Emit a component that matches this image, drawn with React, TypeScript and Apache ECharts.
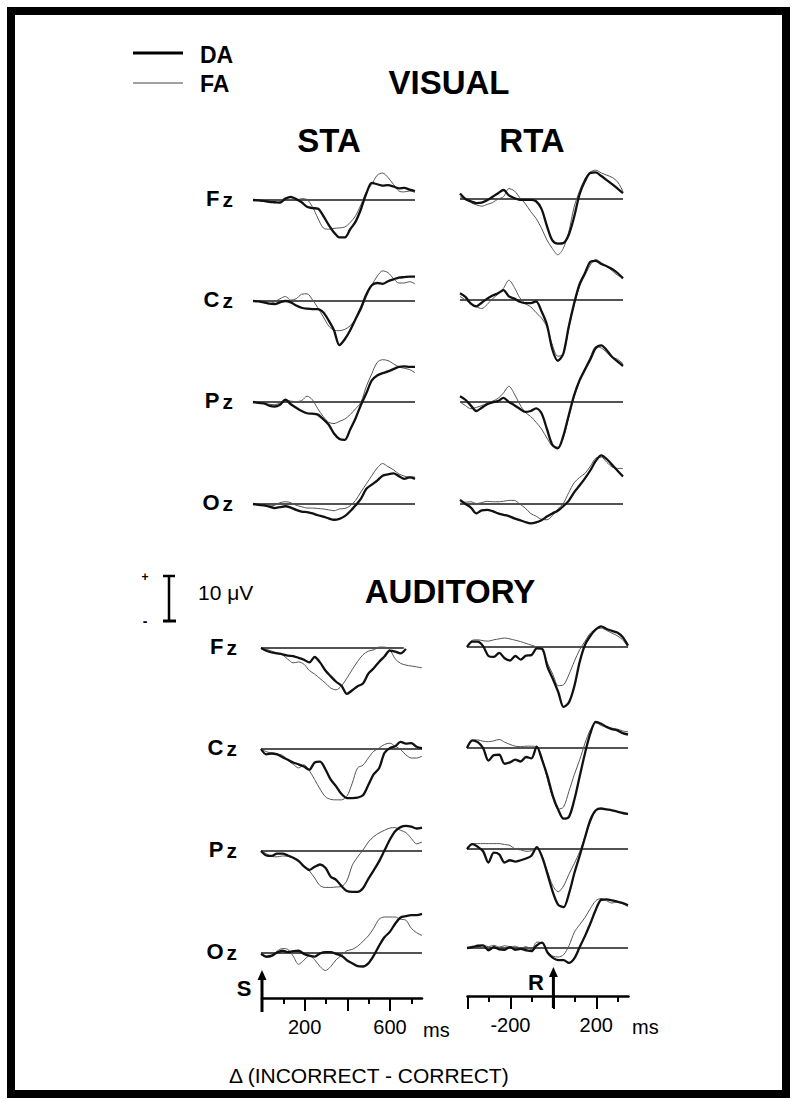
import React, { useEffect, useRef } from 'react';
import * as echarts from 'echarts';

// ---------- time bases (ms) ----------
const STA_T = [0, 25, 50, 75, 100, 125, 150, 175, 200, 225, 250, 275, 300, 325, 350, 375, 400, 425, 450, 475, 500, 525, 550, 575, 600, 625, 650, 675, 700, 725, 750];
const RTA_T = [-400, -375, -350, -325, -300, -275, -250, -225, -200, -175, -150, -125, -100, -75, -50, -25, 0, 25, 50, 75, 100, 125, 150, 175, 200, 225, 250, 275, 300, 325, 350];

// ---------- VISUAL, stimulus-locked (µV, + up) ----------
const visStaFzDA = [0, -0.1, -0.2, -0.4, -0.5, -0.6, 0.3, 0.7, 0.2, -0.5, -1.5, -1.8, -1.9, -3.5, -5.5, -7.2, -8.3, -8.3, -6.5, -4.8, -2, 1.5, 3.8, 3.5, 3.2, 3.3, 3, 2.6, 2.7, 2.3, 2.0];
const visStaFzFA = [0, -0.1, -0.3, -0.5, -0.6, -0.4, 0.5, 0.5, 0, 0.3, 0.1, -1.5, -4, -6.2, -6.5, -6.3, -6.2, -6, -5, -3.5, -1, 1.8, 3.5, 5.5, 6, 5, 3.5, 2, 1.8, 2, 1.7];
const visStaCzDA = [0, -0.1, -0.3, -0.6, -0.7, -0.3, 0, -0.3, -1, -1.5, -1.7, -1.8, -1.8, -2.5, -4.3, -6.5, -9.8, -8.5, -6.5, -4, -1.5, 1.5, 3.5, 4, 3.8, 4.4, 4.8, 5.2, 5.3, 5.4, 5.4];
const visStaCzFA = [0, -0.1, -0.2, -0.6, -0.2, 0.5, 1, 0.2, 0.5, 1.5, 1.6, 0.3, -1.5, -3.5, -5.5, -6.5, -6.6, -6.3, -5.5, -4, -2, 1, 3.5, 5.5, 6.7, 6.3, 5, 4, 4, 4.3, 3.8];
const visStaPzDA = [0, -0.2, -0.3, -0.8, -1, -0.6, 0.5, -0.5, -1.3, -2, -2.5, -2.6, -2.8, -3.8, -5, -7, -8.2, -8.4, -6.1, -3.6, -0.6, 2, 4.8, 5.9, 6.4, 6.8, 7.3, 7.8, 7.9, 7.8, 7.8];
const visStaPzFA = [0, -0.2, -0.3, -0.5, -0.6, -0.2, 0.5, 0.2, 0.1, 0.3, 1.3, 0.5, -1.5, -3.2, -4.5, -4.8, -4.3, -3.8, -2.8, -1.5, 0, 3.5, 6.3, 8.8, 9.4, 9.2, 8.5, 7.8, 7.5, 7.2, 6.5];
const visStaOzDA = [0, -0.2, -0.3, -0.6, -0.9, -0.7, -0.5, -0.8, -1.3, -1.7, -1.8, -2.1, -2.5, -2.8, -3.2, -3.5, -3.3, -2.7, -1.6, -0.3, 1.2, 3.4, 4.3, 5.2, 6.3, 6.6, 6.8, 6.2, 5.6, 5.9, 5.6];
const visStaOzFA = [0, -0.1, -0.2, -0.4, -0.3, 0.3, 0.5, 0.3, -0.3, -0.6, -0.9, -0.9, -1, -1.1, -1.3, -1.5, -1.1, -1, -0.4, 0.8, 2.7, 4.5, 6.3, 8, 9, 8.3, 7.6, 6.7, 6.2, 6, 6];

// ---------- VISUAL, response-locked ----------
const visRtaFzDA = [1.2, 0, -0.5, -0.9, -0.8, -0.3, 0.5, 1.3, 2, 0.8, 0.2, -0.2, -0.2, -0.2, -0.5, -2.2, -6, -9.2, -9.9, -9.8, -8, -4, 1, 4, 5.8, 5.9, 5.1, 4.2, 3.3, 2.3, 1.3];
const visRtaFzFA = [0.5, 0, -0.8, -1.3, -1.6, -1.2, -0.8, 0, 0.5, 2.3, 1.8, 0.3, -1, -2.8, -4.3, -6.5, -9.1, -11, -12.4, -11, -7.4, -1.8, 1.8, 4.5, 6, 6.4, 5.8, 5.3, 4.8, 3.8, 1.7];
const visRtaCzDA = [1.5, 0.7, -0.8, -1.4, -0.6, 0.3, 1, 1.5, 2.2, 0.8, 0.3, -0.4, -0.7, -0.7, -0.3, -2.5, -5.5, -11, -13.5, -12, -6, -0.8, 3.5, 6, 8.5, 8.7, 8, 7.5, 6.9, 6, 4.8];
const visRtaCzFA = [0.8, 0, -0.8, -1.5, -1.9, -1, 0.3, 1.3, 2.6, 4.4, 2.8, 0.5, -0.8, -1.5, -2.8, -4, -6, -10, -12.5, -12, -6.5, -1, 3, 5.5, 7.8, 9, 8.3, 7.5, 6.5, 5.5, 5];
const visRtaPzDA = [1.3, 0.5, -0.8, -2, -1.3, -0.5, -0.1, 0.2, 0.9, 0, -0.7, -1.5, -2.2, -2, -1.4, -2.5, -6, -9.5, -10.3, -7.6, -3, 1.5, 4.8, 7.2, 9.5, 12, 12.6, 11.5, 10, 9, 8];
const visRtaPzFA = [0, -0.8, -1.5, -1.2, -0.8, -0.3, 0.2, 0.8, 2, 3.5, 1.8, -0.5, -2.3, -3.2, -4.5, -6, -8, -9.8, -10, -8, -3.5, 1, 4.5, 7.5, 10, 12.3, 12, 11, 10, 9.5, 8.5];
const visRtaOzDA = [0.9, 0, -0.8, -2.1, -1.4, -1.3, -1.6, -2.1, -2.4, -2.7, -3.2, -3.6, -4, -4.3, -4.1, -3.6, -2.8, -2.1, -1.5, -0.5, 0.7, 2.6, 4.1, 5.7, 7.5, 9.6, 10.8, 10, 8.7, 7.4, 6.1];
const visRtaOzFA = [0.5, 0.4, 0.5, 0.1, 0.3, 0.6, 0.5, 0.5, 0.6, 0.8, 0.8, 0, -0.9, -2.1, -2.7, -3.4, -3.5, -2.6, -1.1, 0.1, 2.5, 4.7, 5.9, 6.8, 8.4, 10.2, 10.4, 9.3, 8.2, 7.9, 7.9];

// ---------- AUDITORY, stimulus-locked ----------
const audStaFzDA = [0, -0.6, -1, -1.2, -1.4, -1.7, -1.8, -2.2, -2.6, -3.2, -2, -3.2, -5, -6.3, -7.5, -8.4, -10.2, -9.4, -8.5, -7.9, -5.7, -4.5, -3.1, -1.9, -0.6, -0.8, -1.2, -0.2, null, null, null];
const audStaFzFA = [0, -0.3, -0.7, -1.1, -1.5, -2.5, -3.3, -3.1, -3.6, -5, -5.8, -6.8, -7.8, -8.9, -9.3, -8.4, -6.7, -4.8, -3, -1.5, -0.7, -0.4, 0.2, 0.2, -0.4, -2.4, -3.4, -3.8, -4, -4.2, -4.4];
const audStaCzDA = [0, -1.2, -1, -1.2, -1.8, -2.4, -3, -3.4, -3.9, -4.6, -3, -2.8, -4.5, -6.8, -8.3, -10, -10.9, -10.9, -10.8, -10.3, -8, -5.6, -4.3, -0.9, 0.2, 0.6, 1.6, 1.2, 1.3, 0.5, 0.2];
const audStaCzFA = [0, -0.6, -0.9, -1.1, -1.4, -2.5, -3.4, -4.2, -3.5, -4.8, -6.8, -8.9, -10.6, -11.2, -11.3, -11.3, -10.5, -7.6, -4.2, -3.6, -2, -0.5, 0.2, 1, 1.3, 0.6, -0.1, -1.3, -2, -2, -1.6];
const audStaPzDA = [0, -1, -1.1, -0.6, -0.6, -1, -1.5, -2.2, -3.4, -4.2, -3.5, -3, -3.7, -5.7, -6.4, -7.8, -8.9, -9.1, -9.1, -8.3, -6.2, -4.3, -2.3, 0.1, 2.5, 4.4, 5.3, 5.6, 5.4, 5, 5.2];
const audStaPzFA = [0, -0.6, -1.2, -1.3, -1.1, -1.2, -1.5, -2.4, -3.3, -4.4, -6, -7.7, -8.1, -8.1, -8, -7.9, -6.6, -3.2, -1.3, 0.2, 2, 3.2, 4, 4.6, 5.1, 5.2, 4.6, 4.1, 2.8, 1.6, 2];
const audStaOzDA = [-0.2, -0.8, -0.6, 0.1, 0.5, 0.2, 0.4, 0.5, -0.2, -0.6, -0.8, -0.1, 0.2, 0.2, -0.2, -0.6, -1.6, -2.3, -2.9, -3, -2.3, -0.6, 1.6, 3.5, 4.7, 6.5, 7.9, 8.2, 8.4, 8.4, 8.7];
const audStaOzFA = [0, -1, -0.8, 0.4, 1, 0.8, -0.7, -2.5, -1.6, -0.6, -1.5, -3, -3.9, -3, -1.5, -0.5, 0.5, 0.8, 1.5, 2.6, 3.8, 5.5, 7.5, 8, 8, 8, 7.5, 7.3, 5.5, 4.5, 3.9];

// ---------- AUDITORY, response-locked ----------
const audRtaFzDA = [0, 1.2, 1.2, 0.2, -2, -2.2, -1.3, -2.5, -3, -2, -2.8, -1.9, -1.8, -0.3, -0.4, -4.4, -7.1, -10, -13.3, -12.3, -8.7, -3.3, 0.5, 2.5, 3.9, 4.6, 4, 3.6, 3.2, 2.2, 0.3];
const audRtaFzFA = [0, 1.5, 1.6, 1.4, 1.3, 1.6, 1.8, 2, 1.8, 1.5, 1.2, 0.8, 0.4, 0, -0.7, -3.6, -6.1, -8.6, -8.4, -6.1, -3.2, -0.6, 1.3, 3.1, 3.9, 4.2, 3.7, 3.1, 2.5, 1.6, 0];
const audRtaCzDA = [0, 1.7, 1.3, 0, -2.8, -1.6, -1.5, -3.5, -3.2, -2.6, -3, -2, -2.3, 0.3, -2.7, -6.3, -10.7, -13.7, -15.7, -15.3, -11.5, -6.3, -1.1, 3.3, 5.8, 5.4, 4.7, 4.2, 3.9, 3.3, 3];
const audRtaCzFA = [0, 1.6, 1.8, 1.5, 1.4, 1.6, 1.9, 1.3, 0.8, 0.4, 0.3, 0.4, 0.4, 0.3, -2.2, -7, -11.1, -13.6, -13.1, -9.6, -5.9, -2.6, 1.1, 4.1, 5.6, 5, 4.6, 4.4, 4.2, 3.8, 3.6];
const audRtaPzDA = [0, 1.1, 0.5, -0.5, -3, -0.8, -1.2, -3, -2.5, -2.8, -2.5, -2.1, -1.5, 0.4, -1.8, -5.6, -9.6, -12.4, -12.9, -9.9, -5.4, -1.5, 2.6, 6.5, 8.6, 9, 8.8, 8.6, 8.3, 8, 7.8];
const audRtaPzFA = [0, 1.2, 1.2, 1.2, 1.2, 1.2, 1.2, 1, 0.8, 0, -0.2, -0.5, -0.4, 0.2, -1.5, -5, -8.2, -9.5, -8.2, -5.6, -3.2, -0.6, 2.8, 6, 8.5, 9, 8.8, 8.6, 8.3, 8, 7.8];
const audRtaOzDA = [0, 0.2, 0.5, 0.6, -0.5, 0.2, -0.3, -0.4, 0.2, -0.4, -0.2, -0.5, -0.7, 0.6, 1.2, -1, -2.2, -2.7, -2.7, -3.3, -2.3, 0.2, 2.7, 5.5, 8.5, 10.7, 10.8, 10.6, 10.3, 10, 9.5];
const audRtaOzFA = [0, 0.4, 0.2, 0.6, 0.3, 0.6, 0.2, 0.5, 0.3, 0.4, 0, 0.3, -0.4, 1.3, 1.1, -0.8, -1.8, -2, -1.5, 0.5, 3.5, 5.2, 6.8, 8.8, 10.5, 11, 10.5, 10, 10.2, 9.8, 9.2];

// ---------- labels / ticks ----------
const ELECTRODES = ['F', 'C', 'P', 'O'];
const STA_MAJOR = [0, 200, 400, 600];
const STA_MINOR = [100, 300, 500, 700];
const STA_LABELS = [200, 600];
const RTA_MAJOR = [-400, -200, 0, 200];
const RTA_MINOR = [-300, -100, 100, 300];
const RTA_LABELS = [-200, 200];

// ---------- layout ----------
const PX_PER_UV = 4.5;
const Y_MIN = -18;
const Y_MAX = 14;
const FONT = '"Liberation Sans", Arial, Helvetica, sans-serif';

const LAYOUT: any = {
  vis: {
    sta: { left: 253, width: 162 },
    rta: { left: 460, width: 163 },
    baseSta: [200, 301, 402, 504],
    baseRta: [199, 300, 402, 504],
    labelRight: 233,
  },
  aud: {
    sta: { left: 261, width: 161 },
    rta: { left: 467, width: 161 },
    baseSta: [648, 749, 851, 953],
    baseRta: [647, 748, 849, 948],
    labelRight: 237,
  },
};

const PANELS = [
  { mod: 'vis', kind: 'sta', el: 0, da: visStaFzDA, fa: visStaFzFA },
  { mod: 'vis', kind: 'sta', el: 1, da: visStaCzDA, fa: visStaCzFA },
  { mod: 'vis', kind: 'sta', el: 2, da: visStaPzDA, fa: visStaPzFA },
  { mod: 'vis', kind: 'sta', el: 3, da: visStaOzDA, fa: visStaOzFA },
  { mod: 'vis', kind: 'rta', el: 0, da: visRtaFzDA, fa: visRtaFzFA },
  { mod: 'vis', kind: 'rta', el: 1, da: visRtaCzDA, fa: visRtaCzFA },
  { mod: 'vis', kind: 'rta', el: 2, da: visRtaPzDA, fa: visRtaPzFA },
  { mod: 'vis', kind: 'rta', el: 3, da: visRtaOzDA, fa: visRtaOzFA },
  { mod: 'aud', kind: 'sta', el: 0, da: audStaFzDA, fa: audStaFzFA, baseEnd: 665 },
  { mod: 'aud', kind: 'sta', el: 1, da: audStaCzDA, fa: audStaCzFA },
  { mod: 'aud', kind: 'sta', el: 2, da: audStaPzDA, fa: audStaPzFA },
  { mod: 'aud', kind: 'sta', el: 3, da: audStaOzDA, fa: audStaOzFA },
  { mod: 'aud', kind: 'rta', el: 0, da: audRtaFzDA, fa: audRtaFzFA },
  { mod: 'aud', kind: 'rta', el: 1, da: audRtaCzDA, fa: audRtaCzFA },
  { mod: 'aud', kind: 'rta', el: 2, da: audRtaPzDA, fa: audRtaPzFA },
  { mod: 'aud', kind: 'rta', el: 3, da: audRtaOzDA, fa: audRtaOzFA },
];

function pairs(t: number[], v: (number | null)[]) {
  const out: number[][] = [];
  t.forEach((x, i) => {
    if (v[i] !== null && v[i] !== undefined) out.push([x, v[i] as number]);
  });
  return out;
}

function txt(text: string, x: number, y: number, size: number, weight = 'normal', align = 'left') {
  return {
    type: 'text',
    x,
    y,
    silent: true,
    style: { text, fontSize: size, fontWeight: weight, fontFamily: FONT, fill: '#000', align, verticalAlign: 'middle' },
  };
}

function line(x1: number, y1: number, x2: number, y2: number, w: number, color = '#000') {
  return { type: 'line', silent: true, shape: { x1, y1, x2, y2 }, style: { stroke: color, lineWidth: w } };
}

function arrowHead(x: number, tipY: number) {
  return { type: 'polygon', silent: true, shape: { points: [[x - 4.5, tipY + 10], [x, tipY], [x + 4.5, tipY + 10]] }, style: { fill: '#000' } };
}

function buildOption() {
  const grid: any[] = [];
  const xAxis: any[] = [];
  const yAxis: any[] = [];
  const series: any[] = [];
  const graphic: any[] = [];

  PANELS.forEach((p: any, i) => {
    const L = LAYOUT[p.mod];
    const col = L[p.kind];
    const base = (p.kind === 'sta' ? L.baseSta : L.baseRta)[p.el];
    const t = p.kind === 'sta' ? STA_T : RTA_T;
    grid.push({ left: col.left, width: col.width, top: base - Y_MAX * PX_PER_UV, height: (Y_MAX - Y_MIN) * PX_PER_UV, outerBoundsMode: 'none' });
    xAxis.push({ gridIndex: i, type: 'value', min: t[0], max: t[t.length - 1], show: false });
    yAxis.push({ gridIndex: i, type: 'value', min: Y_MIN, max: Y_MAX, show: false });
    const common = { type: 'line', xAxisIndex: i, yAxisIndex: i, symbol: 'none', silent: true, animation: false, clip: false };
    series.push({ ...common, data: [[t[0], 0], [p.baseEnd !== undefined ? p.baseEnd : t[t.length - 1], 0]], lineStyle: { color: '#1a1a1a', width: 1.3 }, z: 2 });
    series.push({ ...common, name: 'FA', data: pairs(t, p.fa), smooth: 0.3, lineStyle: { color: '#555', width: 1 }, z: 3 });
    series.push({ ...common, name: 'DA', data: pairs(t, p.da), smooth: 0.3, lineStyle: { color: '#111', width: 2.3 }, z: 4 });

    if (p.kind === 'sta') {
      graphic.push({
        type: 'text',
        x: L.labelRight,
        y: base - 2,
        silent: true,
        style: {
          text: '{a|' + ELECTRODES[p.el] + '}{b|z}',
          align: 'right',
          verticalAlign: 'middle',
          fill: '#000',
          rich: {
            a: { fontSize: 22, fontWeight: 'bold', fontFamily: FONT, fill: '#000' },
            b: { fontSize: 21, fontWeight: 'bold', fontFamily: FONT, fill: '#000', padding: [3, 0, 0, 3] },
          },
        },
      });
    }
  });

  // bottom time axes
  const axisGrids = [
    { left: 262, width: 160, axisY: 998, min: 0, max: 750, major: STA_MAJOR, minor: STA_MINOR, labels: STA_LABELS },
    { left: 467.5, width: 161, axisY: 996, min: -400, max: 350, major: RTA_MAJOR, minor: RTA_MINOR, labels: RTA_LABELS },
  ];
  axisGrids.forEach((a) => {
    const gi = grid.length;
    grid.push({ left: a.left, width: a.width, top: a.axisY - 10, height: 10, outerBoundsMode: 'none' });
    yAxis.push({ gridIndex: gi, type: 'value', show: false, min: 0, max: 1 });
    xAxis.push({
      gridIndex: gi,
      type: 'value',
      position: 'bottom',
      offset: 0,
      min: a.min,
      max: a.max,
      interval: 200,
      splitLine: { show: false },
      axisLine: { show: true, onZero: false, lineStyle: { color: '#000', width: 2.5 } },
      axisTick: { show: true, inside: false, length: 13, customValues: a.major, lineStyle: { color: '#000', width: 2 } },
      axisLabel: {
        show: true,
        customValues: a.labels,
        margin: 19,
        color: '#000',
        fontSize: 20,
        fontFamily: FONT,
        formatter: (v: number) => String(v),
      },
    });
    xAxis.push({
      gridIndex: gi,
      type: 'value',
      position: 'bottom',
      offset: 0,
      min: a.min,
      max: a.max,
      interval: 200,
      splitLine: { show: false },
      axisLine: { show: false, onZero: false },
      axisTick: { show: true, inside: false, length: 6, customValues: a.minor, lineStyle: { color: '#000', width: 2 } },
      axisLabel: { show: false },
    });
  });

  // ---- decorations & texts ----
  graphic.push({ type: 'rect', silent: true, shape: { x: 11, y: 11, width: 775, height: 1083 }, style: { fill: 'none', stroke: '#000', lineWidth: 8 } });

  // legend
  graphic.push(line(133, 53, 183, 53, 3.2));
  graphic.push(line(133, 83, 183, 83, 1.2, '#444'));
  graphic.push(txt('DA', 200, 55, 23, 'bold'));
  graphic.push(txt('FA', 200, 84, 23, 'bold'));

  // headings
  graphic.push(txt('VISUAL', 449, 82, 33, 'bold', 'center'));
  graphic.push(txt('STA', 329, 140, 33, 'bold', 'center'));
  graphic.push(txt('RTA', 532, 140, 33, 'bold', 'center'));
  graphic.push(txt('AUDITORY', 450, 591, 33, 'bold', 'center'));

  // scale bar
  graphic.push(line(169, 576, 169, 621, 2.5));
  graphic.push(line(163, 576, 175, 576, 2.5));
  graphic.push(line(163, 621, 176, 621, 3));
  graphic.push(txt('+', 145, 577, 12, 'bold', 'center'));
  graphic.push(txt('-', 145, 621, 14, 'bold', 'center'));
  graphic.push(txt('10 μV', 198, 592, 21));

  // stimulus / response markers
  graphic.push(line(262, 1012, 262, 978, 3));
  graphic.push(arrowHead(262, 970));
  graphic.push(txt('S', 244, 988, 22, 'bold', 'center'));
  graphic.push(line(553.4, 1008, 553.4, 975, 3));
  graphic.push(arrowHead(553.4, 967));
  graphic.push(txt('R', 536, 982, 22, 'bold', 'center'));

  graphic.push(txt('ms', 423, 1030, 20));
  graphic.push(txt('ms', 632, 1027, 20));
  graphic.push(txt('Δ (INCORRECT - CORRECT)', 229, 1075, 21));

  return {
    animation: false,
    backgroundColor: '#fff',
    grid,
    xAxis,
    yAxis,
    series,
    graphic,
  };
}

export default function App() {
  const ref = useRef<HTMLDivElement>(null);
  useEffect(() => {
    if (!ref.current) return;
    const chart = echarts.init(ref.current, null, { renderer: 'svg' });
    chart.setOption(buildOption() as any);
    return () => chart.dispose();
  }, []);
  return <div ref={ref} style={{ position: 'absolute', left: 0, top: 0, width: 792, height: 1099, background: '#fff' }} />;
}
